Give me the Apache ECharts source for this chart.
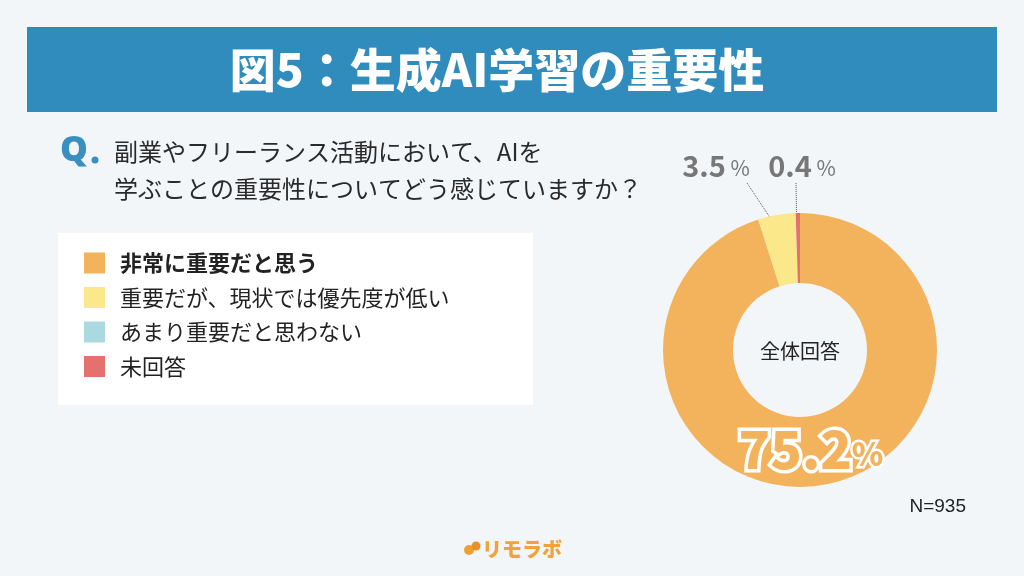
<!DOCTYPE html>
<html>
<head>
<meta charset="utf-8">
<script src="https://cdn.jsdelivr.net/npm/echarts@6/dist/echarts.min.js"></script>
<style>
html,body{margin:0;padding:0;background:#f3f6f9;}
#c{width:1024px;height:576px;}
</style>
</head>
<body>
<div id="c"></div>
<script>
const titleText = '図5：生成AI学習の重要性';
const questionLines = ['副業やフリーランス活動において、AIを', '学ぶことの重要性についてどう感じていますか？'];
const categories = ['非常に重要だと思う', '重要だが、現状では優先度が低い', 'あまり重要だと思わない', '未回答'];
const values = [75.2, 3.5, 0, 0.4];
const colors = ['#f2b35c', '#fbe88b', '#abd9e0', '#e5716f'];
const centerLabel = '全体回答';
const sampleLabel = 'N=935';
const brandLabel = 'リモラボ';

const FONT = '"Noto Sans CJK JP", "Noto Sans", sans-serif';
const chart = echarts.init(document.getElementById('c'), null, {renderer: 'canvas'});

const labelPos = {
  0: {x: 811, y: 449, line: null},
  1: {x: 716, y: 166, line: [[747, 183], [775, 225]]},
  3: {x: 802, y: 166, line: [[796, 183], [796.5, 214]]}
};

const pieData = categories.map((name, i) => {
  const d = {name: name, value: values[i], itemStyle: {color: colors[i]}};
  if (i === 0) {
    d.label = {
      show: true,
      formatter: p => '{v|' + p.value.toFixed(1) + '}{p|%}',
      rich: {
        v: {fontSize: 52, fontWeight: 900, color: '#f2b35c', textBorderColor: '#ffffff', textBorderWidth: 7, fontFamily: FONT},
        p: {fontSize: 32, fontWeight: 900, color: '#f2b35c', textBorderColor: '#ffffff', textBorderWidth: 5, fontFamily: FONT, padding: [10, 0, 0, 0]}
      }
    };
    d.labelLine = {show: false};
  } else if (values[i] === 0) {
    d.label = {show: false};
    d.labelLine = {show: false};
  }
  return d;
});

const option = {
  backgroundColor: '#f3f6f9',
  animation: false,
  legend: {
    orient: 'vertical',
    left: 84,
    top: 252,
    padding: 0,
    itemWidth: 21,
    itemHeight: 21,
    itemGap: 12.5,
    icon: 'rect',
    selectedMode: false,
    data: categories.map((n, i) => ({
      name: n,
      textStyle: {fontWeight: i === 0 ? 'bold' : 'normal'}
    })),
    textStyle: {fontSize: 22, color: '#222', fontFamily: FONT, padding: [0, 0, 0, 10]}
  },
  graphic: [
    {type: 'rect', z: -10, shape: {x: 27, y: 27, width: 970, height: 85}, style: {fill: '#2f8cbc'}},
    {type: 'text', z: 10, x: 497, y: 70, style: {text: titleText, fill: '#fff', font: '900 46px ' + FONT, textAlign: 'center', textVerticalAlign: 'middle'}},
    {type: 'text', x: 74, y: 151, style: {text: 'Q', fill: '#3a8fc1', font: '900 35px "Noto Sans", sans-serif', textAlign: 'center', textVerticalAlign: 'middle'}},
    {type: 'circle', shape: {cx: 95, cy: 160, r: 3.5}, style: {fill: '#3a8fc1'}},
    {type: 'text', x: 114, y: 152, style: {text: questionLines[0], fill: '#2a2a2a', font: '24px ' + FONT, textVerticalAlign: 'middle'}},
    {type: 'text', x: 114, y: 189, style: {text: questionLines[1], fill: '#2a2a2a', font: '24px ' + FONT, textVerticalAlign: 'middle'}},
    {type: 'rect', z: -10, shape: {x: 58, y: 233, width: 475, height: 172}, style: {fill: '#ffffff'}},
    {type: 'text', x: 800, y: 351, style: {text: centerLabel, fill: '#222', font: '20px ' + FONT, textAlign: 'center', textVerticalAlign: 'middle'}},
    {type: 'text', x: 966, y: 507, style: {text: sampleLabel, fill: '#222', font: '19px "Liberation Sans", sans-serif', textAlign: 'right', textVerticalAlign: 'middle'}},
    {type: 'circle', shape: {cx: 469, cy: 550, r: 5}, style: {fill: '#f0a030'}},
    {type: 'circle', shape: {cx: 476, cy: 546, r: 4.5}, style: {fill: '#e8902a'}},
    {type: 'text', x: 482, y: 549, style: {text: brandLabel, fill: '#eea43a', font: '900 20px ' + FONT, textVerticalAlign: 'middle'}}
  ],
  series: [{
    type: 'pie',
    center: [800, 350],
    radius: [67, 137],
    startAngle: 90,
    clockwise: true,
    silent: true,
    avoidLabelOverlap: false,
    minShowLabelAngle: 0,
    label: {
      show: true,
      formatter: p => '{v|' + p.value.toFixed(1) + '}{p| %}',
      rich: {
        v: {fontSize: 29, fontWeight: 'bold', color: '#777', fontFamily: FONT},
        p: {fontSize: 21, color: '#777', fontFamily: FONT, padding: [4, 0, 0, 0]}
      }
    },
    labelLine: {show: true, lineStyle: {color: '#555', width: 1, type: 'dotted'}},
    labelLayout: function (params) {
      const lp = labelPos[params.dataIndex];
      if (!lp) return {};
      const out = {x: lp.x, y: lp.y, align: 'center', verticalAlign: 'middle'};
      if (lp.line) out.labelLinePoints = lp.line;
      return out;
    },
    data: pieData
  }]
};
chart.setOption(option);
</script>
</body>
</html>
